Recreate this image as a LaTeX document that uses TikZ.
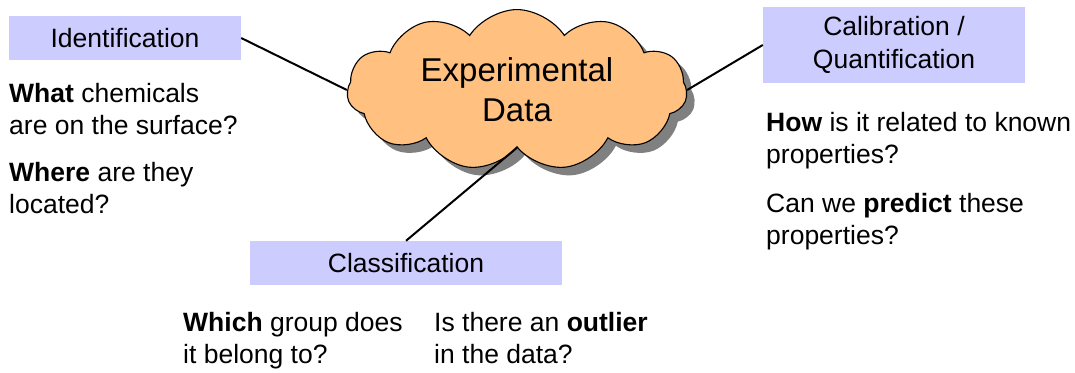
\documentclass[tikz,border=0pt]{standalone}
\usepackage{fontspec}
\setmainfont{Liberation Sans}
\usetikzlibrary{shapes.symbols,shadows}

\definecolor{boxfill}{RGB}{204,204,255}
\definecolor{cloudfill}{RGB}{255,192,128}
\definecolor{shadowgray}{RGB}{128,128,128}

\tikzset{
  labelbox/.style={fill=boxfill, draw=none, inner sep=0pt, align=center,
    font=\fontsize{26.5}{33}\selectfont},
  question/.style={anchor=north west, inner sep=0pt, align=left,
    font=\fontsize{26.5}{32}\selectfont},
  link/.style={draw=black, line width=2pt},
  datacloud/.style={cloud, cloud puffs=11, cloud puff arc=115, aspect=2.2,
    draw=black, line width=1.1pt, fill=cloudfill, inner sep=0pt,
    minimum width=340pt, minimum height=150pt, align=center,
    font=\fontsize{33}{40}\selectfont,
    drop shadow={shadow xshift=8pt, shadow yshift=-8pt,
      fill=shadowgray, opacity=1}}
}

\begin{document}
\begin{tikzpicture}[x=1pt, y=-1pt]
  \useasboundingbox (0,0) rectangle (1075,372);

  % central cloud
  \node[datacloud] (data) at (517,90) {Experimental\\Data};

  % the three analysis tasks
  \node[labelbox, minimum width=232pt, minimum height=44pt] (ident) at (125,38) {Identification};
  \node[labelbox, minimum width=262pt, minimum height=76pt] (calib) at (894,45) {Calibration /\\Quantification};
  \node[labelbox, minimum width=312pt, minimum height=44pt] (class) at (406,263) {Classification};

  % connectors
  \draw[link] (ident.east) -- (data.west);
  \draw[link] (calib.west) -- (data.east);
  \draw[link] (class.north) -- (data.south);

  % questions
  \node[question] (q1) at (9,83.5) {\textbf{What} chemicals\\are on the surface?};
  \node[question] (q2) at (9,162.5) {\textbf{Where} are they\\located?};
  \node[question] (q3) at (766,112.5) {\textbf{How} is it related to known\\properties?};
  \node[question] (q4) at (766,193.5) {Can we \textbf{predict} these\\properties?};
  \node[question] (q5) at (183,312.5) {\textbf{Which} group does\\it belong to?};
  \node[question] (q6) at (434,312.5) {Is there an \textbf{outlier}\\in the data?};
\end{tikzpicture}
\end{document}
